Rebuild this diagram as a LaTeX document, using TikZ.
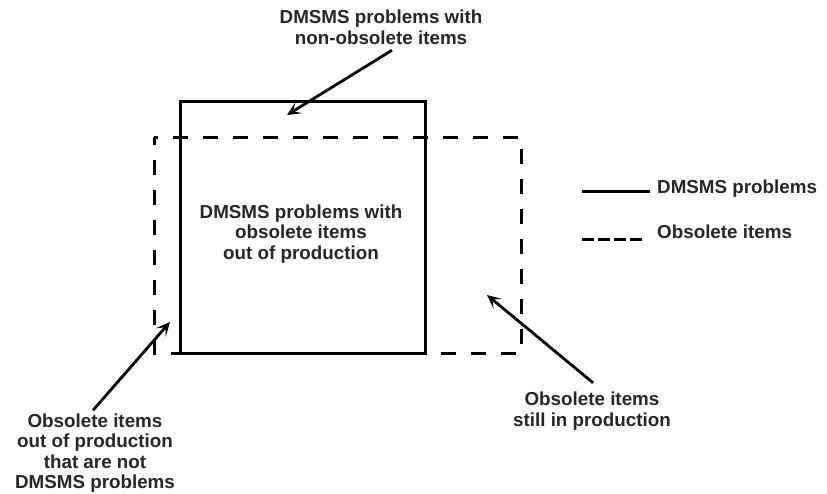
\documentclass[tikz,border=0pt]{standalone}
\usepackage{fontspec}
\setmainfont{Liberation Sans}
\usetikzlibrary{arrows.meta}

\tikzset{
  note/.style={align=center, inner sep=1pt, text=black!85,
    font=\bfseries\fontsize{18.8}{20.5}\selectfont},
  pointer/.style={line width=2.8pt, -{Stealth[length=14pt,width=13pt,inset=7pt]}},
  dmsms/.style={line width=3pt},
  obsolete/.style={line width=3pt, dash pattern=on 15pt off 15pt, dash phase=7.5pt},
}

\begin{document}
\begin{tikzpicture}[x=1pt, y=-1pt]
    \useasboundingbox (0,0) rectangle (827,493);

    % Obsolete items (dashed) and DMSMS problems (solid)
    \draw[obsolete] (154,137) rectangle (521,353);
    \draw[dmsms] (180,101) rectangle (425,353);

    % Labels
    \node[note] (topnote) at (381,27.4) {DMSMS problems with\\non-obsolete items};
    \node[note] (innernote) at (301,234) {DMSMS problems with\\obsolete items\\out of production};
    \node[note] (leftnote) at (95,453) {Obsolete items\\out of production\\that are not\\DMSMS problems};
    \node[note] (rightnote) at (592,411) {Obsolete items\\still in production};

    % Where the arrows point
    \coordinate (topaim) at (287,115);
    \coordinate (leftaim) at (170,322);
    \coordinate (rightaim) at (487,295);

    \draw[pointer] ([xshift=11pt, yshift=-4.5pt]topnote.south) -- (topaim);
    \draw[pointer] ([xshift=-2pt, yshift=2pt]leftnote.north) -- (leftaim);
    \draw[pointer] ([xshift=1pt, yshift=8pt]rightnote.north) -- (rightaim);

    % Legend
    \node[note, anchor=base west] (legsolid) at (656,193) {DMSMS problems};
    \node[note, anchor=base west] (legdashed) at (656,238) {Obsolete items};
    \draw[dmsms] (582,191) -- (650,191);
    \draw[line width=3pt, dash pattern=on 12pt off 4pt] (582,239) -- (643,239);
\end{tikzpicture}
\end{document}
